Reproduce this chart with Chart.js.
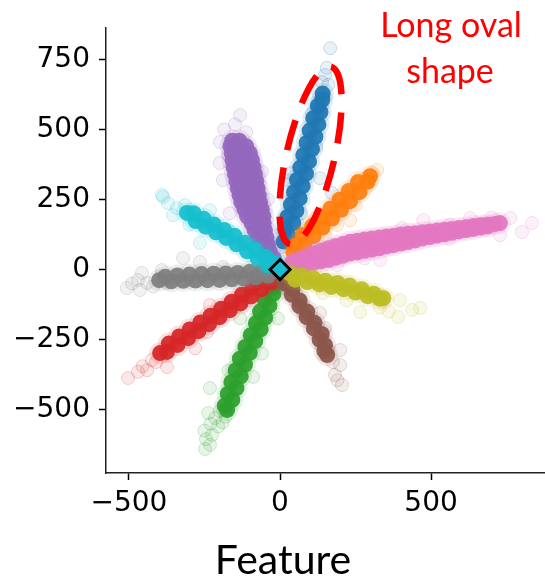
<!DOCTYPE html>
<html>
<head>
<meta charset="utf-8">
<script src="https://cdn.jsdelivr.net/npm/chart.js@4.4.1/dist/chart.umd.min.js"></script>
<style>
  html,body{margin:0;padding:0;background:#fff}
  #wrap{width:545px;height:580px}
</style>
</head>
<body>
<div id="wrap"><canvas id="chart" width="545" height="580"></canvas></div>
<script>
// axis ticks
var xTicks = [-500, 0, 500];
var yTicks = [-500, -250, 0, 250, 500, 750];

// each class: dense body of the cloud + sparse outliers around it
var blueDense = [[12,100],[27,122],[17,144],[44,166],[25,188],[54,210],[36,232],[65,254],[46,276],[75,298],[56,320],[86,342],[67,364],[96,386],[77,408],[106,430],[88,452],[117,474],[98,496],[127,518],[110,540],[134,562],[125,584],[140,606],[141,628]];
var blueSparse = [[166,790],[149,694],[139,669],[106,558],[33,344],[26,319],[132,326],[172,273],[10,141],[17,187],[155,720],[160,660],[40,250],[5,80],[120,440],[70,200]];

var orangeDense = [[44,62],[51,86],[80,87],[75,123],[111,119],[106,155],[141,150],[136,186],[172,182],[167,218],[202,213],[197,249],[232,244],[227,280],[263,276],[258,312],[290,313],[298,333]];
var orangeSparse = [[321,355],[305,345],[232,176],[189,159],[116,183],[285,290],[60,110],[150,120],[250,230],[80,40],[200,250]];

var greenDense = [[-4,-45],[-26,-66],[-22,-87],[-50,-108],[-35,-129],[-66,-150],[-49,-171],[-80,-192],[-64,-213],[-97,-234],[-82,-255],[-115,-276],[-100,-297],[-133,-318],[-116,-339],[-147,-360],[-130,-381],[-161,-402],[-144,-423],[-173,-444],[-158,-465],[-183,-486],[-175,-501]];
var greenSparse = [[-238,-512],[-200,-505],[-215,-530],[-180,-525],[-230,-550],[-205,-560],[-250,-575],[-225,-590],[-245,-605],[-232,-625],[-248,-640],[-190,-545],[-132,-174],[-7,-174],[-232,-423],[-89,-383],[-170,-360],[-60,-300]];

var redDense = [[-27,-46],[-56,-40],[-62,-71],[-91,-65],[-96,-96],[-126,-90],[-131,-121],[-160,-115],[-166,-145],[-195,-140],[-200,-170],[-230,-165],[-235,-195],[-264,-189],[-270,-220],[-299,-214],[-304,-245],[-334,-239],[-339,-269],[-368,-264],[-374,-294],[-397,-298]];
var redSparse = [[-503,-387],[-440,-359],[-424,-323],[-374,-348],[-281,-281],[-242,-223],[-172,-133],[-455,-345],[-470,-365],[-410,-330],[-330,-250],[-232,-127]];

var purpleDense = [[-20,40],[-34,65],[-40,90],[-56,90],[-45,115],[-73,115],[-50,140],[-84,140],[-67,140],[-54,165],[-94,165],[-74,165],[-55,190],[-109,190],[-82,190],[-60,215],[-118,215],[-89,215],[-66,240],[-128,240],[-97,240],[-70,265],[-134,265],[-102,265],[-74,290],[-140,290],[-107,290],[-78,315],[-144,315],[-111,315],[-83,340],[-149,340],[-116,340],[-88,365],[-154,365],[-121,365],[-93,390],[-157,390],[-125,390],[-100,415],[-160,415],[-130,415],[-112,440],[-164,440],[-139,440],[-135,460],[-158,460]];
var purpleSparse = [[-132,551],[-149,518],[-199,455],[-189,319],[-172,410],[-112,490],[-166,201],[-200,380],[-60,350],[-40,250],[-185,500]];

var brownDense = [[17,-30],[15,-50],[41,-70],[39,-90],[65,-110],[64,-130],[90,-150],[88,-170],[114,-190],[112,-210],[138,-230],[131,-250],[149,-270],[147,-290],[156,-305]];
var brownSparse = [[132,-155],[149,-209],[199,-287],[199,-341],[182,-376],[205,-412],[175,-330],[80,-150],[190,-395]];

var pinkDense = [[40,26],[40,10],[64,37],[64,15],[88,47],[88,19],[112,58],[112,24],[136,67],[136,29],[160,76],[160,34],[184,84],[184,42],[208,91],[208,49],[232,99],[232,57],[256,103],[256,61],[280,107],[280,67],[304,111],[304,71],[328,114],[328,76],[352,118],[352,82],[376,121],[376,87],[400,125],[400,93],[424,128],[424,98],[448,130],[448,104],[472,133],[472,111],[496,136],[496,116],[520,139],[520,121],[544,142],[544,126],[568,145],[568,131],[592,148],[592,136],[616,151],[616,141],[640,155],[640,145],[664,158],[664,150],[688,160],[688,154],[712,163],[728,166]];
var pinkSparse = [[474,177],[762,184],[834,166],[801,134],[728,123],[331,34],[189,16],[404,148],[629,184],[560,160],[700,185],[280,40],[560,110],[120,80]];

var grayDense = [[-20,-4],[-40,-22],[-60,-6],[-80,-28],[-100,-8],[-120,-32],[-140,-12],[-160,-35],[-180,-14],[-200,-37],[-220,-15],[-240,-38],[-260,-16],[-280,-39],[-300,-18],[-320,-40],[-340,-21],[-360,-42],[-380,-26],[-400,-38]];
var graySparse = [[-507,-66],[-470,-37],[-457,-12],[-391,-2],[-321,41],[-265,27],[-374,-48],[-440,-48],[-464,-73],[-189,9],[-420,-60],[-490,-50]];

var oliveDense = [[30,-13],[50,-36],[70,-22],[90,-45],[110,-31],[130,-53],[150,-40],[170,-62],[190,-48],[210,-70],[230,-57],[250,-82],[270,-70],[290,-95],[310,-86],[330,-104],[342,-102]];
var oliveSparse = [[265,-152],[391,-169],[437,-144],[464,-137],[397,-109],[142,-84],[330,-135],[360,-150],[220,-110]];

var cyanDense = [[-12,21],[-39,15],[-47,46],[-74,40],[-82,71],[-109,65],[-116,96],[-144,90],[-151,121],[-178,113],[-185,141],[-212,133],[-219,161],[-246,153],[-253,181],[-279,173],[-286,201],[-308,202]];
var cyanSparse = [[-391,266],[-371,237],[-341,219],[-315,230],[-354,194],[-265,95],[-232,212],[-172,141],[-387,259],[-300,160]];

var center = [[0, 0]];

var classes = [
  {rgb:'31,119,180',  dense:blueDense,   sparse:blueSparse},
  {rgb:'255,127,14',  dense:orangeDense, sparse:orangeSparse},
  {rgb:'44,160,44',   dense:greenDense,  sparse:greenSparse},
  {rgb:'214,39,40',   dense:redDense,    sparse:redSparse},
  {rgb:'148,103,189', dense:purpleDense, sparse:purpleSparse},
  {rgb:'140,86,75',   dense:brownDense,  sparse:brownSparse},
  {rgb:'227,119,194', dense:pinkDense,   sparse:pinkSparse},
  {rgb:'127,127,127', dense:grayDense,   sparse:graySparse},
  {rgb:'188,189,34',  dense:oliveDense,  sparse:oliveSparse},
  {rgb:'23,190,207',  dense:cyanDense,   sparse:cyanSparse}
];

function pts(arr){ return arr.map(function(p){ return {x:p[0], y:p[1]}; }); }
function minus(v){ return v < 0 ? '\u2212' + Math.abs(v) : String(v); }
function rgba(rgb, a){ return 'rgba(' + rgb + ',' + a + ')'; }

var datasets = [];
classes.forEach(function(c, i){
  // later classes sit on top, like a sequence of scatter calls
  var ord = 3 * (classes.length - i);
  // soft rim around the dense body
  datasets.push({data:pts(c.dense), order:ord, pointRadius:11, borderWidth:0,
    backgroundColor:rgba(c.rgb, 0.13)});
  datasets.push({data:pts(c.sparse), order:ord, pointRadius:6.5, borderWidth:1,
    backgroundColor:rgba(c.rgb, 0.1), borderColor:rgba(c.rgb, 0.22)});
  datasets.push({data:pts(c.dense), order:ord - 1, pointRadius:8, borderWidth:0,
    backgroundColor:rgba(c.rgb, 0.93)});
});
datasets.push({data:pts(center), order:0, pointStyle:'rectRot', pointRadius:10, borderWidth:3,
  backgroundColor:'#17becf', borderColor:'#000'});

// dashed ellipse + red note + axis label
var notes = {
  id:'notes',
  afterDatasetsDraw:function(chart){
    var ctx = chart.ctx, sx = chart.scales.x, sy = chart.scales.y;
    ctx.save();
    ctx.beginPath();
    ctx.ellipse(sx.getPixelForValue(101), sy.getPixelForValue(407), 24, 91, 0.227, 0, Math.PI * 2);
    ctx.setLineDash([31, 18]);
    ctx.lineWidth = 6.5;
    ctx.strokeStyle = '#ff0000';
    ctx.stroke();
    ctx.setLineDash([]);
    ctx.fillStyle = '#ff0000';
    ctx.textAlign = 'center';
    ctx.textBaseline = 'alphabetic';
    ctx.font = '34px Lato';
    ctx.fillText('Long oval', 451, 37);
    ctx.fillText('shape', 450, 83);
    ctx.fillStyle = '#000';
    ctx.font = '41px Lato';
    ctx.fillText('Feature', 283, 574);
    ctx.restore();
  }
};

Chart.defaults.font.family = "'DejaVu Sans', sans-serif";
Chart.defaults.font.size = 28;
Chart.defaults.color = '#000';
var tickFont = {family:"'DejaVu Sans', sans-serif", size:28};

new Chart(document.getElementById('chart'), {
  type:'scatter',
  data:{datasets:datasets},
  options:{
    responsive:false, animation:false, devicePixelRatio:1,
    layout:{autoPadding:false, padding:{top:28, right:0, left:0, bottom:0}},
    plugins:{legend:{display:false}, tooltip:{enabled:false}},
    scales:{
      x:{
        type:'linear', min:-576, max:877,
        afterBuildTicks:function(s){ s.ticks = xTicks.map(function(v){ return {value:v}; }); },
        afterFit:function(s){ s.height = 107; s.paddingLeft = 0; s.paddingRight = 0; },
        grid:{drawOnChartArea:false, drawTicks:true, tickLength:7, tickWidth:1.5, color:'#000'},
        border:{display:true, color:'#222', width:1.5},
        ticks:{padding:7, color:'#000', font:tickFont, maxRotation:0, callback:minus}
      },
      y:{
        type:'linear', min:-726, max:862,
        afterBuildTicks:function(s){ s.ticks = yTicks.map(function(v){ return {value:v}; }); },
        afterFit:function(s){ s.width = 106; s.paddingTop = 0; s.paddingBottom = 0; },
        grid:{drawOnChartArea:false, drawTicks:true, tickLength:7, tickWidth:1.5, color:'#000'},
        border:{display:true, color:'#222', width:1.5},
        ticks:{padding:9, color:'#000', font:tickFont, callback:minus}
      }
    }
  },
  plugins:[notes]
});
</script>
</body>
</html>
